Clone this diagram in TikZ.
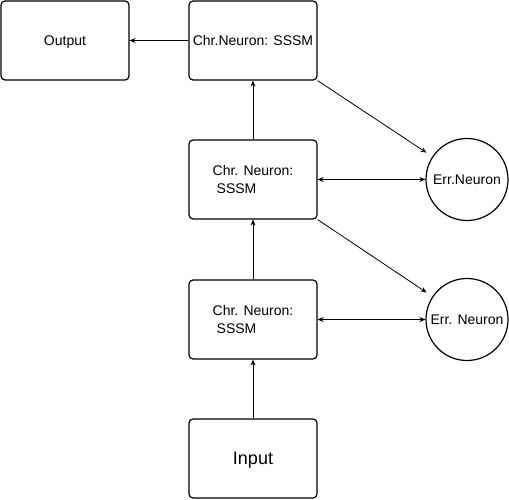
\documentclass[tikz,border=0pt]{standalone}
\usepackage{fontspec}
\setmainfont{Liberation Sans}
\usetikzlibrary{arrows.meta,positioning}

\begin{document}
\begin{tikzpicture}[
    x=1pt,y=-1pt,
    box/.style={draw,rounded corners=4pt,line width=1.2pt,minimum width=128pt,
                minimum height=79pt,inner sep=0pt,font=\fontsize{14}{18}\selectfont},
    err/.style={draw,circle,line width=1.2pt,minimum size=82pt,inner sep=0pt,
                font=\fontsize{14}{18}\selectfont},
    link/.style={-{Stealth[length=6pt,width=5pt]},line width=0.8pt},
    both/.style={{Stealth[length=6pt,width=5pt]}-{Stealth[length=6pt,width=5pt]},line width=0.8pt},
  ]
  \useasboundingbox (0,0) rectangle (509,500);

  % ---------------------------------------------------------------- column
  \node[box,text depth=0pt] (chrtop) at (253,40.5) {Chr.Neuron: SSSM};
  \node[box,text depth=0pt] (out) at (65,40.5) {Output};
  \node[box,align=left] (chrmid) at (253,179.5) {Chr. Neuron:\\\hspace*{4pt}SSSM};
  \node[box,align=left] (chrlow) at (253,319.5) {Chr. Neuron:\\\hspace*{4pt}SSSM};
  \node[box,text depth=0pt,font=\fontsize{18}{22}\selectfont] (in) at (253,458.5) {Input};

  % ---------------------------------------------------------------- error neurons
  \node[err,text depth=0pt] (errmid) at (467,179.5) {Err.Neuron};
  \node[err,text depth=0pt] (errlow) at (467,319.5) {Err. Neuron};

  % ---------------------------------------------------------------- connections
  \draw[link] (chrtop) -- (out);
  \draw[link] (chrmid) -- (chrtop);
  \draw[link] (chrlow) -- (chrmid);
  \draw[link] (in) -- (chrlow);
  \draw[link,shorten >=7pt] (chrtop.south east) -- (errmid);
  \draw[link,shorten >=7pt] (chrmid.south east) -- (errlow);
  \draw[both] (chrmid) -- (errmid);
  \draw[both] (chrlow) -- (errlow);
\end{tikzpicture}
\end{document}
